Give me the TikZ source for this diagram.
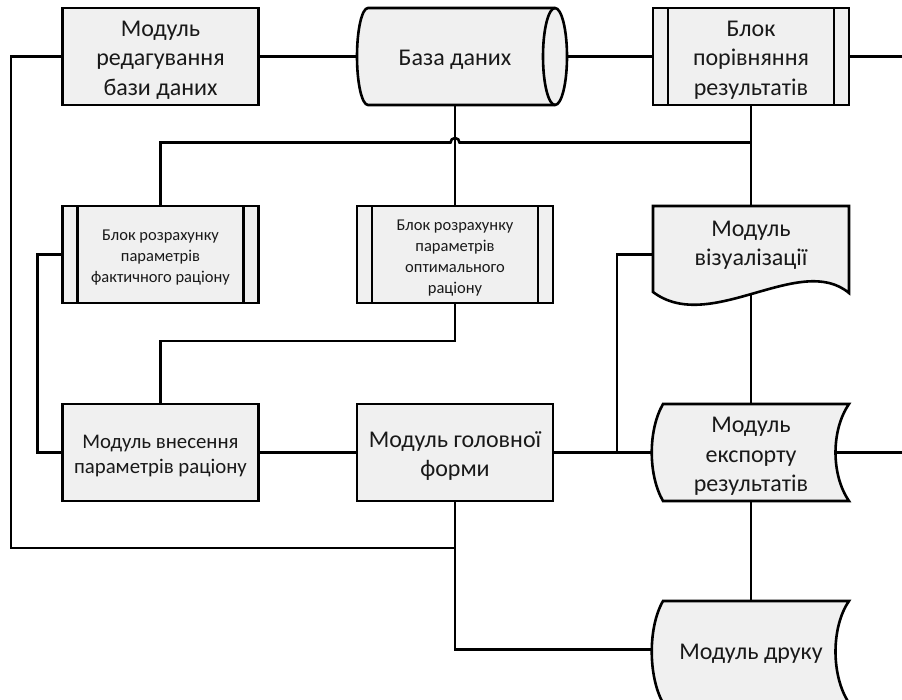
\documentclass[tikz,border=0pt]{standalone}
\usepackage{fontspec}
\setmainfont{Carlito}
\pgfdeclarelayer{bg}
\pgfsetlayers{bg,main}
\definecolor{boxfill}{RGB}{240,240,240}
\begin{document}
\begin{tikzpicture}[x=1pt,y=-1pt,
  shp/.style={draw=black, fill=boxfill, line width=2.6pt, line join=miter},
  boxnode/.style={shp, rectangle, minimum width=196pt, minimum height=97pt, inner sep=0pt, outer sep=0pt},
  anch/.style={inner sep=0pt, outer sep=0pt, minimum size=0pt},
  txt/.style={align=center, inner sep=0pt, yshift=-3.5pt, text=black!90},
  big/.style={font=\fontsize{24}{29.5}\selectfont},
  mid/.style={font=\fontsize{20.8}{25}\selectfont},
  small/.style={font=\fontsize{16.5}{21}\selectfont},
  conn/.style={line width=2.6pt}]
\useasboundingbox (0,0) rectangle (902,699);

% --- shapes and texts (main layer)
\node[boxnode] (edit) at (160.5,56.5) {};
\node[txt,big] (editT) at (edit.center) {Модуль\\редагування\\бази даних};

\draw[shp] (368,8) -- (555,8) arc[start angle=-90,end angle=90,x radius=12,y radius=48.5]
  -- (368,105) arc[start angle=90,end angle=270,x radius=11,y radius=48.5] -- cycle;
\draw[shp,fill=none] (555,8) arc[start angle=270,end angle=90,x radius=12,y radius=48.5];
\node[anch] (db) at (455,56.5) {};
\node[txt,big] (dbT) at (db.center) {База даних};

\node[boxnode] (cmp) at (751,56.5) {};
\draw[shp,fill=none] ([xshift=15pt]cmp.north west) -- ([xshift=15pt]cmp.south west);
\draw[shp,fill=none] ([xshift=-15pt]cmp.north east) -- ([xshift=-15pt]cmp.south east);
\node[txt,big] (cmpT) at (cmp.center) {Блок\\порівняння\\результатів};

\node[boxnode] (fact) at (160.5,254.5) {};
\draw[shp,fill=none] ([xshift=15pt]fact.north west) -- ([xshift=15pt]fact.south west);
\draw[shp,fill=none] ([xshift=-15pt]fact.north east) -- ([xshift=-15pt]fact.south east);
\node[txt,small] (factT) at (fact.center) {Блок розрахунку\\параметрів\\фактичного раціону};

\node[boxnode] (opt) at (455,254.5) {};
\draw[shp,fill=none] ([xshift=15pt]opt.north west) -- ([xshift=15pt]opt.south west);
\draw[shp,fill=none] ([xshift=-15pt]opt.north east) -- ([xshift=-15pt]opt.south east);
\node[txt,small] (optT) at (opt.center) {Блок розрахунку\\параметрів\\оптимального\\раціону};

\draw[shp] (653,206) -- (849,206) -- (849,293) .. controls (800,252) and (710,335) .. (653,292) -- cycle;
\node[anch] (vis) at (751,254.5) {};
\node[txt,big] (visT) at (751,242) {Модуль\\візуалізації};

\node[boxnode] (input) at (160.5,452.5) {};
\node[txt,mid] (inputT) at (input.center) {Модуль внесення\\параметрів раціону};
\node[boxnode] (main) at (455,452.5) {};
\node[txt,big] (mainT) at (main.center) {Модуль головної\\форми};

\draw[shp] (663,404) -- (849,404) .. controls (831,430) and (831,475) .. (849,501)
  -- (663,501) .. controls (648,475) and (648,430) .. (663,404) -- cycle;
\node[anch] (exp) at (751,452.5) {};
\node[txt,big] (expT) at (751,453) {Модуль\\експорту\\результатів};

\draw[shp] (663,601) -- (849,601) .. controls (831,627) and (831,676) .. (849,703)
  -- (663,703) .. controls (648,676) and (648,627) .. (663,601) -- cycle;
\node[anch] (prn) at (751,649.5) {};
\node[txt,big] (prnT) at (751,650) {Модуль друку};

% --- connectors (background layer)
\coordinate (cL) at (11,548);
\coordinate (outR1) at (902,56.5);
\coordinate (outR2) at (902,452.5);
\coordinate (busH) at (450.5,142.5);
\coordinate (busE) at (751,142.5);
\coordinate (cOI) at (160.5,341);
\coordinate (cV) at (617,452.5);
\begin{pgfonlayer}{bg}
\draw[conn] (edit.center) -| (cL) -- (main.center |- cL);
\draw[conn] (main.center) |- (prn.center);
\draw[conn] (edit.center) -- (db.center) -- (cmp.center) -- (outR1);
\draw[conn] (fact.center) |- (busH) arc[start angle=180,end angle=360,radius=4.5] -- (busE);
\draw[conn] (cmp.center) -- (vis.center) -- (exp.center) -- (prn.center);
\draw[conn] (db.center) -- (opt.center);
\draw[conn] (fact.west) -- ++(-25,0) |- (input.west);
\draw[conn] (opt.center) |- (cOI) -- (input.center);
\draw[conn] (input.center) -- (main.center) -- (exp.center) -- (outR2);
\draw[conn] (vis.center) -| (cV);
\end{pgfonlayer}
\end{tikzpicture}
\end{document}
